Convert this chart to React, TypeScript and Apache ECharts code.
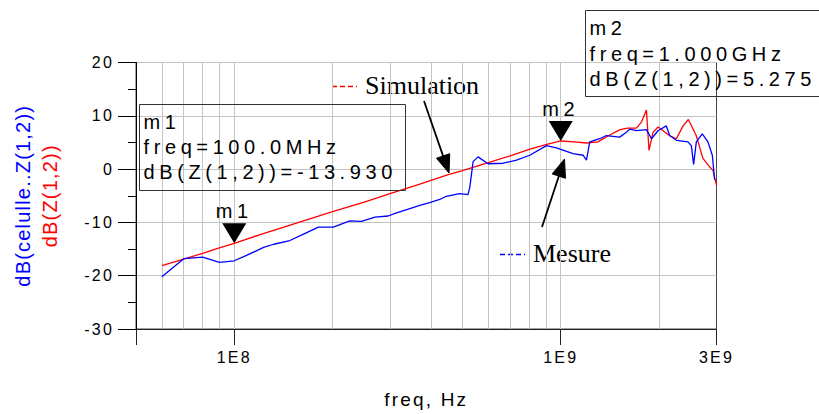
import React, { useEffect, useRef } from "react";
import * as echarts from "echarts";

// ---------- data ----------
const simFreqMHz = [60, 70, 80, 90, 100, 120, 150, 200, 250, 300, 370, 450, 500, 600, 700, 800, 900, 1000, 1100, 1200, 1300, 1413, 1520, 1600, 1705, 1766, 1830, 1864, 1917, 1986, 2050, 2150, 2260, 2370, 2460, 2600, 2726, 2850, 2925, 3000];
const simDb = [-18.1, -16.9, -15.8, -14.8, -13.93, -12.3, -10.4, -8.0, -6.2, -4.6, -2.8, -1.1, -0.3, 1.2, 2.5, 3.7, 4.6, 5.275, 5.1, 4.9, 5.1, 6.4, 7.4, 7.7, 7.7, 8.8, 11.1, 3.5, 6.9, 7.9, 7.3, 6.3, 5.7, 8.1, 9.3, 6.3, 2.0, 0.5, -0.2, -3.0];

const mesFreqMHz = [60, 70, 80, 90, 100, 109, 123, 132, 148, 163, 181, 201, 226, 245, 270, 296, 314, 345, 370, 397, 426, 446, 490, 520, 527, 539, 558, 599, 666, 732, 804, 904, 970, 1091, 1170, 1199, 1227, 1316, 1380, 1516, 1589, 1627, 1705, 1830, 1896, 1986, 2106, 2156, 2260, 2453, 2512, 2553, 2602, 2714, 2824, 2913, 2960];
const mesDb = [-20.2, -16.8, -16.5, -17.5, -17.2, -16.2, -14.7, -14.1, -13.4, -12.2, -10.9, -10.9, -9.7, -9.8, -9.0, -8.8, -8.2, -7.4, -6.8, -6.3, -5.7, -5.1, -4.6, -4.8, -3.3, 1.4, 2.3, 1.0, 1.1, 1.7, 2.6, 4.4, 4.0, 2.9, 2.6, 1.7, 5.1, 5.7, 6.3, 6.0, 6.9, 7.5, 7.2, 7.4, 5.7, 7.2, 8.1, 6.3, 5.4, 5.1, 4.4, 0.9, 5.1, 6.6, 5.1, 2.6, -2.0];

const xMinHz = 5e7;
const xMaxHz = 3e9;
const xTickHz = [5e7, 1e8, 1e9, 3e9];
const xLabelHz = [1e8, 1e9, 3e9];
const xLabelText = ["1E8", "1E9", "3E9"];
const xGridHz = [6e7, 7e7, 8e7, 9e7, 1e8, 2e8, 3e8, 4e8, 5e8, 6e8, 7e8, 8e8, 9e8, 1e9, 2e9];

const yMin = -30;
const yMax = 20;
const yStep = 10;

const markerNames = ["m1", "m2"];
const markerFreqHz = [1e8, 1e9];
const markerFreqText = ["100.0MHz", "1.000GHz"];
const markerDb = [-13.93, 5.275];

const seriesNames = ["Simulation", "Mesure"];

// ---------- fonts ----------
const FONT_BOX = "Liberation Sans, Arial";
const FONT_AXIS = "Liberation Sans, Helvetica";
const FONT_NAME = "Liberation Sans, sans-serif";
const FONT_SERIF = "Liberation Serif";

const LOG = (hz: number) => Math.log10(hz);

function arrow(x1: number, y1: number, tx: number, ty: number) {
  const dx = tx - x1;
  const dy = ty - y1;
  const len = Math.sqrt(dx * dx + dy * dy);
  const ux = dx / len;
  const uy = dy / len;
  const hl = 18;
  const hw = 7;
  const bx = tx - ux * hl;
  const by = ty - uy * hl;
  const px = -uy * hw;
  const py = ux * hw;
  return [
    {
      type: "line",
      shape: { x1, y1, x2: bx + ux * 2, y2: by + uy * 2 },
      style: { stroke: "#000", lineWidth: 1.8 },
      silent: true,
      z: 30,
    },
    {
      type: "polygon",
      shape: { points: [[tx, ty], [bx + px, by + py], [bx - px, by - py]] },
      style: { fill: "#000", stroke: "#000", lineWidth: 1 },
      silent: true,
      z: 30,
    },
  ];
}

function markerBox(i: number, x: number, y: number, w: number, h: number, lh: number) {
  const text = `${markerNames[i]}\nfreq=${markerFreqText[i]}\ndB(Z(1,2))=${markerDb[i].toFixed(3)}`;
  return [
    {
      type: "rect",
      shape: { x, y, width: w, height: h },
      style: { fill: "none", stroke: "#333", lineWidth: 1 },
      silent: true,
      z: 20,
    },
    {
      type: "text",
      x: x + 4,
      y: y + 5,
      style: {
        text,
        fontSize: 20,
        fontFamily: FONT_BOX,
        lineHeight: lh,
        fill: "#000",
        align: "left",
        verticalAlign: "top",
      },
      silent: true,
      z: 20,
    },
  ];
}

export default function App() {
  const ref = useRef<HTMLDivElement>(null);

  useEffect(() => {
    if (!ref.current) return;
    const chart = echarts.init(ref.current, null, { renderer: "svg" });

    const simData = simFreqMHz.map((f, i) => [LOG(f * 1e6), simDb[i]]);
    const mesData = mesFreqMHz.map((f, i) => [LOG(f * 1e6), mesDb[i]]);

    const labelFor = (v: number) => {
      let best = 0;
      let bd = Infinity;
      xLabelHz.forEach((hz, i) => {
        const d = Math.abs(LOG(hz) - v);
        if (d < bd) {
          bd = d;
          best = i;
        }
      });
      return xLabelText[best];
    };

    const option: any = {
      animation: false,
      backgroundColor: "#fff",
      grid: {
        left: 136,
        right: 102.5,
        top: 62.5,
        bottom: 81.5,
        show: true,
        borderColor: "#444",
        borderWidth: 1,
        backgroundColor: "transparent",
      },
      xAxis: [
        {
          type: "value",
          min: LOG(xMinHz),
          max: LOG(xMaxHz),
          position: "bottom",
          axisLine: { show: true, onZero: false, lineStyle: { color: "#222", width: 1 } },
          axisTick: {
            show: true,
            inside: false,
            length: 16,
            customValues: xTickHz.map(LOG),
            lineStyle: { color: "#222", width: 1 },
          },
          axisLabel: {
            show: true,
            customValues: xLabelHz.map(LOG),
            formatter: (v: number) => labelFor(v),
            margin: 20,
            fontSize: 16,
            color: "#000",
            fontFamily: FONT_AXIS,
          },
          splitLine: { show: false },
          name: "freq, Hz",
          nameLocation: "middle",
          nameGap: 61,
          nameTextStyle: { fontSize: 19, color: "#000", fontFamily: FONT_AXIS },
        },
        {
          type: "value",
          min: LOG(xMinHz),
          max: LOG(xMaxHz),
          position: "bottom",
          axisLine: { show: false },
          axisTick: { show: false, customValues: xGridHz.map(LOG) },
          axisLabel: { show: false },
          splitLine: { show: true, lineStyle: { color: "#c4c4c4", width: 1 } },
        },
      ],
      yAxis: {
        type: "value",
        min: yMin,
        max: yMax,
        interval: yStep,
        axisLine: { show: true, onZero: false, lineStyle: { color: "#000", width: 1 } },
        axisTick: { show: true, inside: false, length: 18, lineStyle: { color: "#000" } },
        minorTick: { show: true, splitNumber: 2, length: 8, lineStyle: { color: "#000" } },
        axisLabel: { margin: 22, fontSize: 16, color: "#000", fontFamily: FONT_AXIS },
        splitLine: { show: true, lineStyle: { color: "#c4c4c4", width: 1 } },
        name: "{b|dB(celulle..Z(1,2))}\n{r|dB(Z(1,2))}",
        nameLocation: "middle",
        nameRotate: 90,
        nameGap: 73,
        nameTextStyle: {
          rich: {
            b: { color: "#0000ff", fontSize: 20, fontFamily: FONT_NAME, lineHeight: 27 },
            r: { color: "#ff0000", fontSize: 20, fontFamily: FONT_NAME, lineHeight: 27 },
          },
        },
      },
      series: [
        {
          name: seriesNames[0],
          type: "line",
          xAxisIndex: 0,
          data: simData,
          showSymbol: false,
          symbol: "none",
          lineStyle: { color: "#ff0000", width: 1.3 },
          itemStyle: { color: "#ff0000" },
          z: 3,
          silent: true,
          markPoint: {
            silent: true,
            symbol: "triangle",
            symbolSize: [24, 20],
            symbolRotate: 180,
            symbolOffset: [0, -10],
            itemStyle: { color: "#000" },
            label: {
              show: true,
              position: "top",
              distance: 2,
              formatter: "{b}",
              fontSize: 20,
              color: "#000",
              fontFamily: FONT_BOX,
            },
            data: markerNames.map((n, i) => ({ name: n, coord: [LOG(markerFreqHz[i]), markerDb[i]] })),
          },
        },
        {
          name: seriesNames[1],
          type: "line",
          xAxisIndex: 0,
          data: mesData,
          showSymbol: false,
          symbol: "none",
          lineStyle: { color: "#0000ff", width: 1.3 },
          itemStyle: { color: "#0000ff" },
          z: 4,
          silent: true,
        },
      ],
      graphic: [
        ...markerBox(0, 139.5, 104.5, 266, 86, 25),
        ...markerBox(1, 585.5, 10.5, 240, 86, 25.5),
        {
          type: "line",
          shape: { x1: 332, y1: 86.5, x2: 357, y2: 86.5 },
          style: { stroke: "#ff0000", lineWidth: 1.3, lineDash: [5, 3] },
          silent: true,
        },
        {
          type: "text",
          x: 365,
          y: 85,
          style: {
            text: seriesNames[0],
            fontSize: 26,
            fontFamily: FONT_SERIF,
            fill: "#000",
            align: "left",
            verticalAlign: "middle",
          },
          silent: true,
        },
        ...arrow(424, 101, 449, 173),
        {
          type: "line",
          shape: { x1: 500, y1: 254.5, x2: 525, y2: 254.5 },
          style: { stroke: "#0000ff", lineWidth: 1.3, lineDash: [5, 3] },
          silent: true,
        },
        {
          type: "text",
          x: 533,
          y: 253,
          style: {
            text: seriesNames[1],
            fontSize: 26,
            fontFamily: FONT_SERIF,
            fill: "#000",
            align: "left",
            verticalAlign: "middle",
          },
          silent: true,
        },
        ...arrow(542, 227, 564.5, 159),
      ],
    };

    chart.setOption(option);
    return () => chart.dispose();
  }, []);

  const css = `
#ads-chart text[style*="Arial"], #ads-chart text[font-family*="Arial"] { letter-spacing: 4.6px; }
#ads-chart text[style*="Helvetica"], #ads-chart text[font-family*="Helvetica"] { letter-spacing: 2.2px; }
#ads-chart text[style*="sans-serif"], #ads-chart text[font-family*="sans-serif"] { letter-spacing: 1.2px; }
`;

  return (
    <>
      <style>{css}</style>
      <div
        id="ads-chart"
        ref={ref}
        style={{ position: "fixed", left: 0, top: 0, width: 819, height: 414, background: "#fff" }}
      />
    </>
  );
}
